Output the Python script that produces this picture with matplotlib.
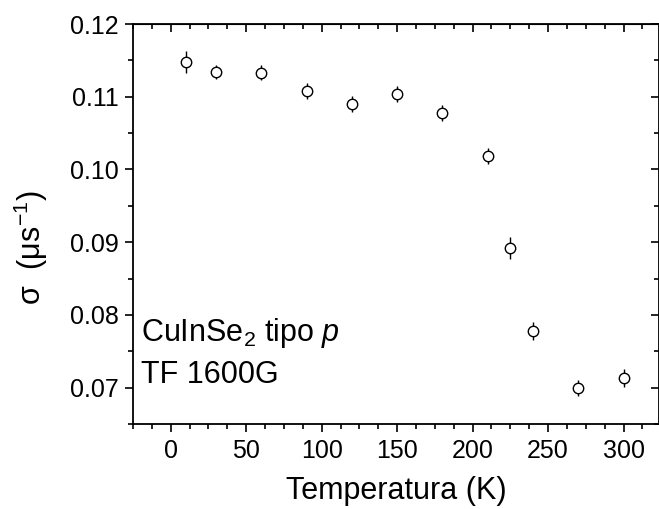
import numpy as np
import matplotlib
matplotlib.use("Agg")
from matplotlib import pyplot as plt
from matplotlib.ticker import MultipleLocator, FormatStrFormatter

plt.rcParams['font.family'] = ['Liberation Sans', 'DejaVu Sans']
plt.rcParams['mathtext.fontset'] = 'custom'
plt.rcParams['mathtext.rm'] = 'Liberation Sans'
plt.rcParams['mathtext.it'] = 'Liberation Sans:italic'

# data
temp = [10, 30, 60, 90, 120, 150, 180, 210, 225, 240, 270, 300]
sigma = [0.1148, 0.1134, 0.1133, 0.1108, 0.1090, 0.1104, 0.1078, 0.1019, 0.0892, 0.0778, 0.0699, 0.0713]
sigma_err = [0.0015, 0.0010, 0.0010, 0.0011, 0.0011, 0.0011, 0.0011, 0.0011, 0.0015, 0.0012, 0.0011, 0.0012]

fig = plt.figure(figsize=(6.59, 5.09), dpi=100)
ax = fig.add_axes([133 / 659, 1 - 424 / 509, (659 - 133) / 659, (424 - 24) / 509])

ax.errorbar(temp, sigma, yerr=sigma_err, fmt='o', mfc='white', mec='black',
            ecolor='black', ms=7.5, mew=1.0, elinewidth=1.0, capsize=0)

ax.set_xlim(-25, 323.5)
ax.set_ylim(0.065, 0.12)
ax.xaxis.set_major_locator(MultipleLocator(50))
ax.xaxis.set_minor_locator(MultipleLocator(12.5))
ax.yaxis.set_major_locator(MultipleLocator(0.01))
ax.yaxis.set_minor_locator(MultipleLocator(0.005))
ax.yaxis.set_major_formatter(FormatStrFormatter('%.2f'))

for s in ax.spines.values():
    s.set_linewidth(1.3)

ax.tick_params(axis='both', which='both', labelsize=18, width=1.2)
ax.tick_params(axis='both', which='major', length=6)
ax.tick_params(axis='both', which='minor', length=3.5)
ax.tick_params(axis='x', which='both', direction='out', top=False, pad=5)
ax.tick_params(axis='y', which='both', direction='out', right=False, pad=4)

# top and right ticks point inward
sec_x = ax.secondary_xaxis('top')
sec_x.xaxis.set_major_locator(MultipleLocator(50))
sec_x.xaxis.set_minor_locator(MultipleLocator(12.5))
sec_x.tick_params(which='both', direction='in', labeltop=False, width=1.2)
sec_x.tick_params(which='major', length=6)
sec_x.tick_params(which='minor', length=3.5)
sec_y = ax.secondary_yaxis('right')
sec_y.yaxis.set_major_locator(MultipleLocator(0.01))
sec_y.yaxis.set_minor_locator(MultipleLocator(0.005))
sec_y.tick_params(which='both', direction='in', labelright=False, width=1.2)
sec_y.tick_params(which='major', length=6)
sec_y.tick_params(which='minor', length=3.5)

ax.set_xlabel('Temperatura (K)', fontsize=22, labelpad=9)
ax.set_ylabel('σ  (μs$^{-1}$)', fontsize=22)
ax.yaxis.set_label_coords(-0.158, 0.44)

ax.text(-20, 0.0764, 'CuInSe$_2$ tipo $p$', fontsize=22, ha='left', va='baseline')
ax.text(-20, 0.0706, 'TF 1600G', fontsize=22, ha='left', va='baseline')

fig.savefig('out.png', dpi=100)
